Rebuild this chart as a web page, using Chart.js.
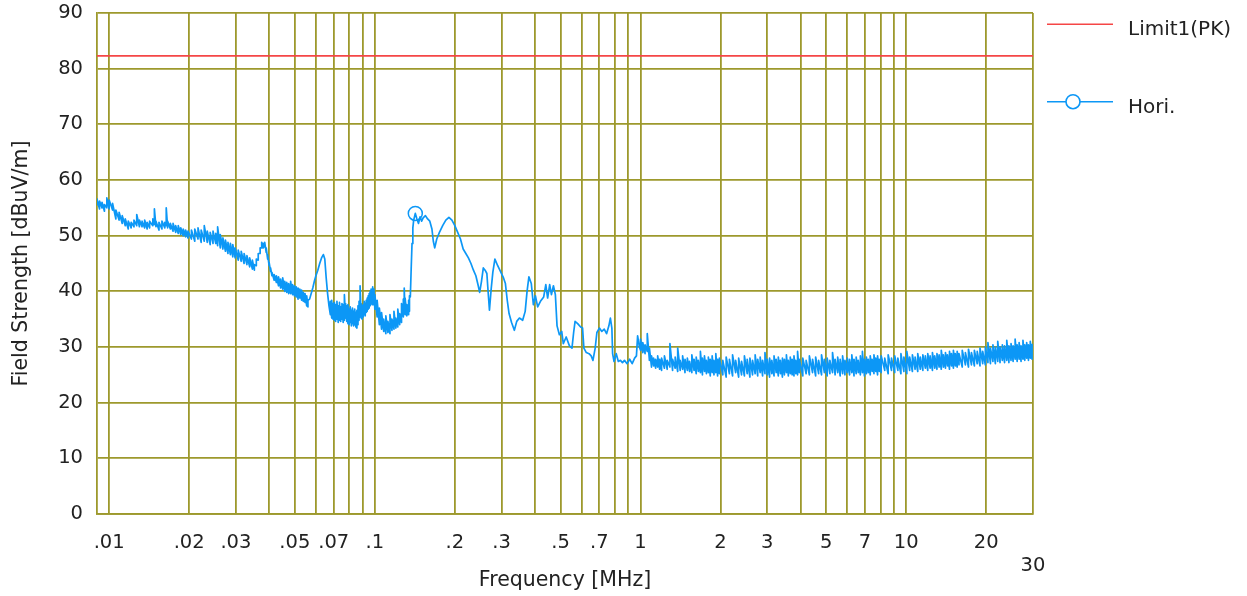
<!DOCTYPE html>
<html>
<head>
<meta charset="utf-8">
<title>Field Strength</title>
<script src="https://cdn.jsdelivr.net/npm/chart.js@4.4.1/dist/chart.umd.min.js"></script>
<style>
  html, body { margin: 0; padding: 0; background: #fff; }
  #wrap { width: 1247px; height: 596px; position: relative; }
</style>
</head>
<body>
<div id="wrap"><canvas id="chart"></canvas></div>
<script>
// axis setup
const FREQ_MIN = 0.009;
const FREQ_MAX = 30;
const LEVEL_MIN = 0;
const LEVEL_MAX = 90;

const xGridLines = [
  0.01, 0.02, 0.03, 0.04, 0.05, 0.06, 0.07, 0.08, 0.09,
  0.1, 0.2, 0.3, 0.4, 0.5, 0.6, 0.7, 0.8, 0.9,
  1, 2, 3, 4, 5, 6, 7, 8, 9,
  10, 20, 30,
];
const xTickValues = [0.01, 0.02, 0.03, 0.05, 0.07, 0.1, 0.2, 0.3, 0.5, 0.7, 1, 2, 3, 5, 7, 10, 20, 30];
const xTickText = ['.01', '.02', '.03', '.05', '.07', '.1', '.2', '.3', '.5', '.7', '1', '2', '3', '5', '7', '10', '20', '30'];

// limit line
const limitLabel = 'Limit1(PK)';
const limitLevel = 82.3;

// horizontal scan. rows are [MHz, dBuV/m] or, where the trace is a noise band, [MHz, low, high]
const horiLabel = 'Hori.';
const horiMarker = [0.142, 54.0];

const horiLow = [
  [0.0090, 55.4, 56.6], [0.0092, 54.8, 56.2], [0.0094, 55.0, 56.0], [0.0096, 54.4, 55.6],
  [0.0098, 55.0, 56.8], [0.0100, 54.8, 56.4], [0.0103, 54.6, 55.8], [0.0106, 53.0, 54.6],
  [0.0109, 52.8, 54.2], [0.0112, 52.2, 53.6], [0.0115, 51.8, 53.0], [0.0118, 51.2, 52.6],
  [0.0121, 51.4, 52.4], [0.0124, 51.6, 52.8], [0.0127, 51.8, 53.8], [0.0130, 51.6, 52.8],
  [0.0133, 51.6, 52.6], [0.0136, 51.4, 52.8], [0.0139, 51.2, 52.4], [0.0142, 51.4, 52.6],
  [0.0146, 51.8, 53.0], [0.0148, 52.0, 54.8], [0.0150, 51.6, 52.6], [0.0154, 51.0, 52.4],
  [0.0158, 51.2, 52.6], [0.0162, 51.4, 52.4], [0.0164, 51.8, 55.0], [0.0166, 51.4, 52.6],
  [0.0170, 51.2, 52.2], [0.0174, 50.8, 52.2], [0.0178, 50.6, 51.8], [0.0182, 50.4, 51.8],
  [0.0186, 50.2, 51.4], [0.0190, 50.0, 51.2], [0.0194, 49.8, 51.0], [0.0198, 49.6, 50.8],
  [0.0204, 49.4, 51.0], [0.0210, 49.0, 51.2], [0.0216, 49.4, 51.4], [0.0222, 48.8, 51.0],
  [0.0228, 49.0, 51.8], [0.0234, 48.8, 50.8], [0.0240, 48.4, 50.6], [0.0246, 48.6, 50.8],
  [0.0252, 48.6, 50.4], [0.0256, 48.2, 51.6], [0.0262, 47.8, 50.2], [0.0268, 47.6, 49.6],
  [0.0274, 47.2, 49.2], [0.0280, 46.8, 48.8], [0.0286, 46.6, 48.6], [0.0292, 46.2, 48.4],
  [0.0298, 46.0, 47.8], [0.0306, 45.6, 47.4], [0.0314, 45.4, 47.2], [0.0322, 45.0, 46.8],
  [0.0330, 44.8, 46.4], [0.0338, 44.4, 46.0], [0.0346, 44.0, 45.6], [0.0352, 43.8, 44.8],
  [0.0358, 44.6, 45.8], [0.0364, 45.6, 46.8], [0.0370, 46.8, 47.8], [0.0375, 47.8, 48.8],
  [0.0380, 47.8, 48.6], [0.0385, 48.0, 48.8], [0.0390, 47.0, 47.8], [0.0395, 45.8, 46.6],
  [0.0400, 44.6, 45.2], [0.0405, 43.6, 44.2], [0.0410, 42.8, 43.4], [0.0418, 42.0, 43.0],
  [0.0426, 41.6, 42.8], [0.0434, 41.0, 42.6], [0.0442, 40.6, 42.2], [0.0450, 40.4, 42.4],
  [0.0458, 40.0, 41.8], [0.0466, 39.8, 41.6], [0.0474, 39.6, 41.4], [0.0482, 39.6, 41.8],
  [0.0490, 39.4, 41.2], [0.0498, 39.2, 41.0], [0.0506, 39.0, 40.8], [0.0514, 38.6, 40.6],
  [0.0522, 38.8, 40.4], [0.0530, 38.4, 40.2], [0.0538, 38.2, 39.8], [0.0546, 38.0, 39.6],
  [0.0554, 37.4, 39.2], [0.0560, 37.2, 38.4],
  [0.0568, 38.6], [0.0576, 39.6], [0.0584, 40.6], [0.0592, 41.8], [0.0600, 42.8],
  [0.0610, 43.8], [0.0620, 45.0], [0.0630, 46.0], [0.0640, 46.6], [0.0648, 45.8],
  [0.0656, 42.4], [0.0664, 39.6], [0.0672, 37.4],
  [0.0680, 35.8, 38.2], [0.0688, 35.2, 38.4], [0.0696, 35.0, 37.8], [0.0704, 34.8, 38.0],
  [0.0712, 34.6, 37.6], [0.0720, 35.0, 38.2], [0.0728, 34.4, 37.4], [0.0736, 34.8, 38.0],
  [0.0744, 34.6, 37.2], [0.0752, 35.0, 37.8], [0.0760, 34.4, 37.6], [0.0768, 34.8, 39.4],
  [0.0776, 35.2, 37.8], [0.0784, 34.6, 37.4], [0.0792, 34.2, 37.6], [0.0800, 34.0, 36.8],
  [0.0808, 34.4, 37.2], [0.0816, 33.8, 36.6], [0.0824, 34.2, 37.0], [0.0832, 33.8, 36.4],
  [0.0840, 34.0, 36.8], [0.0848, 33.6, 36.2], [0.0856, 33.4, 36.6], [0.0864, 34.0, 37.4],
  [0.0872, 34.8, 38.2], [0.0880, 35.4, 41.0], [0.0888, 35.2, 37.8], [0.0896, 35.0, 37.4],
  [0.0904, 35.4, 37.6], [0.0912, 35.8, 38.2], [0.0920, 35.6, 37.8], [0.0928, 36.2, 38.4],
  [0.0936, 36.4, 38.8], [0.0944, 36.8, 39.2], [0.0952, 37.0, 39.6], [0.0960, 37.4, 40.0],
  [0.0968, 37.8, 40.4], [0.0976, 37.6, 40.2], [0.0984, 38.0, 40.8], [0.0992, 37.6, 40.4],
  [0.100, 36.8, 39.4], [0.102, 35.4, 38.4], [0.104, 34.0, 37.0], [0.106, 33.2, 36.2],
  [0.108, 32.8, 35.0], [0.110, 32.4, 35.6], [0.112, 32.6, 34.6], [0.114, 32.4, 35.8],
  [0.116, 33.0, 35.0], [0.118, 33.2, 36.4], [0.120, 33.4, 35.2], [0.122, 33.6, 36.8],
  [0.124, 34.0, 36.0], [0.126, 34.4, 37.8], [0.128, 35.4, 38.6], [0.129, 36.0, 40.6],
  [0.130, 35.8, 38.8], [0.132, 35.6, 37.6], [0.134, 35.8, 38.4], [0.135, 36.4, 39.2],
];

const horiMid = [
  [0.136, 39.0], [0.137, 44.0], [0.138, 48.6], [0.139, 51.4], [0.140, 52.8], [0.142, 54.0],
  [0.144, 53.0], [0.146, 52.2], [0.148, 53.4], [0.150, 52.6], [0.152, 53.2], [0.155, 53.6],
  [0.158, 53.0], [0.161, 52.6], [0.164, 51.2], [0.166, 49.0], [0.168, 47.8], [0.171, 49.4],
  [0.175, 50.6], [0.180, 51.8], [0.185, 52.8], [0.190, 53.3], [0.195, 52.8], [0.200, 51.8],
  [0.205, 50.6], [0.210, 49.4], [0.215, 47.6], [0.220, 46.8], [0.225, 46.0], [0.230, 45.0],
  [0.235, 43.8], [0.240, 42.8], [0.245, 41.0], [0.248, 39.8], [0.252, 41.8], [0.256, 44.2],
  [0.260, 43.8], [0.264, 43.2], [0.267, 39.8], [0.270, 36.6], [0.274, 40.4], [0.278, 43.4],
  [0.283, 45.8], [0.290, 44.6], [0.297, 43.6], [0.305, 42.4], [0.310, 41.4], [0.315, 38.4],
  [0.320, 36.0], [0.327, 34.4], [0.335, 33.0], [0.342, 34.6], [0.350, 35.2], [0.360, 34.8],
  [0.368, 36.4], [0.374, 40.0], [0.380, 42.6], [0.388, 41.4], [0.395, 37.6], [0.402, 39.2],
  [0.410, 37.2], [0.420, 38.2], [0.432, 39.0], [0.440, 41.2], [0.447, 38.8], [0.455, 41.2],
  [0.462, 39.4], [0.470, 41.0], [0.478, 39.4], [0.485, 33.8], [0.495, 32.2], [0.505, 32.8],
  [0.512, 30.6], [0.525, 31.8], [0.540, 30.2], [0.552, 29.8], [0.560, 32.6], [0.567, 34.6],
  [0.580, 34.2], [0.595, 33.6], [0.605, 33.4], [0.612, 29.8], [0.625, 29.0], [0.640, 28.8],
  [0.652, 28.4], [0.662, 27.6], [0.675, 29.8], [0.685, 32.6], [0.700, 33.4], [0.715, 32.8],
  [0.730, 33.2], [0.745, 32.4], [0.760, 33.8], [0.770, 35.2], [0.780, 33.4], [0.785, 28.8],
  [0.795, 27.4], [0.810, 28.8], [0.825, 27.4], [0.840, 27.6], [0.855, 27.2], [0.870, 27.6],
  [0.890, 27.0], [0.910, 27.8], [0.930, 27.0], [0.950, 28.0], [0.965, 28.4], [0.975, 32.0],
  [0.990, 30.0],
  [1.00, 29.4, 31.4], [1.02, 29.0, 30.8], [1.04, 28.8, 30.4], [1.06, 29.2, 32.4],
  [1.08, 27.6, 29.8], [1.10, 26.4, 28.4], [1.12, 26.6, 28.0], [1.14, 26.2, 27.8],
  [1.16, 26.4, 28.4], [1.18, 26.0, 27.8],
];

const horiHigh = [
  [1.20, 25.8, 28.0], [1.23, 26.2, 28.4], [1.26, 26.0, 27.6], [1.29, 26.4, 30.6],
  [1.32, 25.8, 27.8], [1.35, 26.2, 28.2], [1.38, 25.6, 29.8], [1.41, 25.8, 27.6],
  [1.44, 26.0, 28.4], [1.47, 25.4, 27.8], [1.50, 25.8, 28.0], [1.53, 25.6, 27.4],
  [1.56, 25.4, 28.6], [1.59, 25.8, 27.8], [1.62, 25.2, 28.2], [1.65, 25.6, 27.6],
  [1.68, 25.4, 29.2], [1.71, 25.0, 28.0], [1.74, 25.6, 28.4], [1.77, 25.2, 27.6],
  [1.80, 25.4, 28.2], [1.83, 24.8, 27.8], [1.86, 25.4, 28.4], [1.89, 25.0, 27.6],
  [1.92, 25.4, 28.8], [1.95, 24.8, 27.8], [1.98, 25.2, 28.0],
  [2.04, 25.0, 27.6], [2.10, 24.6, 28.2], [2.16, 25.2, 27.8], [2.22, 24.8, 28.6],
  [2.28, 25.4, 27.6], [2.34, 24.6, 28.0], [2.40, 25.0, 27.4], [2.46, 24.8, 28.4],
  [2.52, 25.2, 27.8], [2.58, 24.6, 28.0], [2.64, 25.0, 27.6], [2.70, 25.2, 28.6],
  [2.76, 24.8, 27.8], [2.82, 25.4, 28.2], [2.88, 24.8, 27.6], [2.94, 25.2, 29.0],
  [3.00, 25.0, 27.8], [3.06, 24.6, 28.0], [3.12, 25.2, 27.6], [3.18, 24.8, 28.4],
  [3.24, 25.4, 27.8], [3.30, 24.8, 28.2], [3.36, 25.2, 27.6], [3.42, 24.6, 28.0],
  [3.48, 25.0, 27.8], [3.54, 25.4, 28.6], [3.60, 24.8, 27.6], [3.66, 25.2, 28.2],
  [3.72, 25.0, 27.8], [3.78, 24.8, 28.4], [3.84, 25.2, 27.6], [3.90, 25.0, 29.2],
  [3.96, 25.4, 27.8],
  [4.08, 24.8, 28.0], [4.20, 25.2, 27.6], [4.32, 25.0, 28.4], [4.44, 25.4, 27.8],
  [4.56, 24.8, 28.2], [4.68, 25.2, 27.6], [4.80, 25.0, 28.6], [4.92, 25.4, 27.8],
  [5.04, 24.8, 28.0], [5.16, 25.2, 27.6], [5.28, 25.4, 29.0], [5.40, 25.0, 27.8],
  [5.52, 25.4, 28.2], [5.64, 24.8, 27.8], [5.76, 25.2, 28.4], [5.88, 25.0, 27.6],
  [6.00, 25.4, 28.0], [6.12, 25.0, 27.8], [6.24, 25.4, 28.6], [6.36, 24.8, 27.8],
  [6.48, 25.2, 28.2], [6.60, 25.4, 27.6], [6.72, 25.0, 28.4], [6.84, 25.4, 29.2],
  [6.96, 24.8, 27.8], [7.08, 25.2, 28.2], [7.20, 25.4, 27.8], [7.32, 25.0, 28.4],
  [7.44, 25.6, 27.8], [7.56, 25.2, 28.6], [7.68, 25.6, 28.0], [7.80, 25.0, 28.4],
  [7.92, 25.6, 27.8],
  [8.05, 25.4, 28.4], [8.30, 25.8, 28.0], [8.55, 25.2, 28.6], [8.80, 25.8, 28.0],
  [9.05, 25.4, 28.4], [9.30, 25.8, 28.0], [9.55, 25.2, 28.8], [9.80, 25.6, 28.2],
  [10.05, 25.2, 29.2], [10.30, 25.8, 28.2], [10.55, 25.6, 28.6], [10.80, 26.0, 28.2],
  [11.05, 25.6, 28.8], [11.30, 26.0, 28.2], [11.55, 25.8, 28.6], [11.80, 26.2, 28.4],
  [12.05, 25.8, 28.8], [12.30, 26.2, 28.4], [12.55, 25.8, 29.0], [12.80, 26.2, 28.4],
  [13.05, 26.0, 28.8], [13.30, 26.4, 28.6], [13.55, 26.0, 29.4], [13.80, 26.4, 28.6],
  [14.05, 26.2, 29.0], [14.30, 26.6, 28.6], [14.55, 26.0, 29.2], [14.80, 26.6, 28.8],
  [15.05, 26.2, 29.4], [15.30, 26.6, 28.8], [15.55, 26.4, 29.2], [15.80, 26.8, 28.8],
  [16.25, 26.4, 29.4], [16.70, 26.8, 29.0], [17.15, 26.4, 29.6], [17.60, 26.8, 29.0],
  [18.05, 26.6, 29.4], [18.50, 27.0, 29.2], [18.95, 26.6, 29.8], [19.40, 27.0, 29.2],
  [19.85, 26.8, 30.0], [20.30, 27.2, 30.8], [20.75, 27.0, 29.8], [21.20, 27.4, 30.4],
  [21.65, 27.0, 30.0], [22.10, 27.4, 31.0], [22.55, 27.2, 30.0], [23.00, 27.6, 30.4],
  [23.45, 27.2, 30.2], [23.90, 27.6, 31.2], [24.35, 27.2, 30.2], [24.80, 27.6, 30.6],
  [25.25, 27.4, 30.2], [25.70, 27.8, 31.4], [26.15, 27.4, 30.4], [26.60, 27.8, 30.8],
  [27.05, 27.4, 30.2], [27.50, 27.8, 31.2], [27.95, 27.6, 30.4], [28.40, 28.0, 30.8],
  [28.85, 27.6, 30.4], [29.30, 28.0, 31.0], [29.75, 27.8, 30.6],
];

const INK = '#222';
const GRID = '#9d992c';
const FONT = 'DejaVu Sans';
const HORI_BLUE = '#0c97f6';

// a band row draws as a low-to-high stroke at its frequency
const toPoints = rows => rows.flatMap(r => (r.length === 3
  ? [{ x: r[0], y: r[1] }, { x: r[0], y: r[2] }]
  : [{ x: r[0], y: r[1] }]));

const sideLegend = {
  id: 'sideLegend',
  afterDraw(chart) {
    const { ctx, chartArea } = chart;
    const x0 = chartArea.right + 14;
    ctx.save();
    ctx.font = `20px "${FONT}"`;
    ctx.textBaseline = 'alphabetic';
    ctx.textAlign = 'left';
    chart.data.datasets.forEach((ds, i) => {
      const y = chartArea.top + 11.3 + i * 77.4;
      ctx.strokeStyle = ds.borderColor;
      ctx.lineWidth = 1.6;
      ctx.beginPath();
      ctx.moveTo(x0, y);
      ctx.lineTo(x0 + 66, y);
      ctx.stroke();
      if (ds.legendMarker) {
        ctx.beginPath();
        ctx.arc(x0 + 26, y, 7, 0, Math.PI * 2);
        ctx.fillStyle = '#fff';
        ctx.fill();
        ctx.stroke();
      }
      ctx.fillStyle = INK;
      ctx.fillText(ds.label, x0 + 81, y + 10.8);
    });
    ctx.restore();
  },
};

const horiPoints = toPoints([...horiLow, ...horiMid, ...horiHigh]);

new Chart(document.getElementById('chart'), {
  type: 'line',
  data: {
    datasets: [
      {
        label: limitLabel,
        data: [{ x: FREQ_MIN, y: limitLevel }, { x: FREQ_MAX, y: limitLevel }],
        borderColor: '#f54646',
        borderWidth: 1.8,
        pointRadius: 0,
      },
      {
        label: horiLabel,
        data: horiPoints,
        borderColor: HORI_BLUE,
        borderWidth: 1.7,
        borderJoinStyle: 'round',
        tension: 0,
        legendMarker: true,
        pointRadius: ctx => (ctx.raw && ctx.raw.x === horiMarker[0] ? 7 : 0),
        pointHoverRadius: 0,
        pointBorderWidth: 1.5,
        pointBackgroundColor: 'rgba(0,0,0,0)',
        pointBorderColor: HORI_BLUE,
      },
    ],
  },
  options: {
    responsive: true,
    maintainAspectRatio: false,
    animation: false,
    events: [],
    layout: { padding: { top: 13, right: 214, left: 0, bottom: 0 } },
    plugins: {
      legend: { display: false },
      tooltip: { enabled: false },
    },
    scales: {
      x: {
        type: 'logarithmic',
        min: FREQ_MIN,
        max: FREQ_MAX,
        afterBuildTicks: axis => { axis.ticks = xGridLines.map(v => ({ value: v })); },
        afterFit: axis => { axis.height = 82; },
        grid: { color: GRID, lineWidth: 1.8, drawTicks: false },
        border: { color: GRID, width: 1.8 },
        ticks: {
          autoSkip: false,
          maxRotation: 0,
          minRotation: 0,
          padding: 17,
          color: INK,
          font: { family: FONT, size: 19.5 },
          callback: value => {
            const i = xTickValues.indexOf(value);
            if (i < 0) return '';
            return value === FREQ_MAX ? ['', xTickText[i]] : xTickText[i];
          },
        },
        title: {
          display: true,
          text: 'Frequency [MHz]',
          color: INK,
          font: { family: FONT, size: 20.5 },
          padding: { top: 0, bottom: 3 },
        },
      },
      y: {
        min: LEVEL_MIN,
        max: LEVEL_MAX,
        afterFit: axis => {
          axis.width = 97;
          axis.paddingTop = 0;
          axis.paddingBottom = 0;
        },
        grid: { color: GRID, lineWidth: 1.8, drawTicks: false },
        border: { color: GRID, width: 1.8 },
        ticks: {
          stepSize: 10,
          padding: 14,
          color: INK,
          font: { family: FONT, size: 19.5 },
        },
        title: {
          display: true,
          text: 'Field Strength [dBuV/m]',
          color: INK,
          font: { family: FONT, size: 20.5 },
          padding: { top: 9, bottom: 0 },
        },
      },
    },
  },
  plugins: [sideLegend],
});
</script>
</body>
</html>
